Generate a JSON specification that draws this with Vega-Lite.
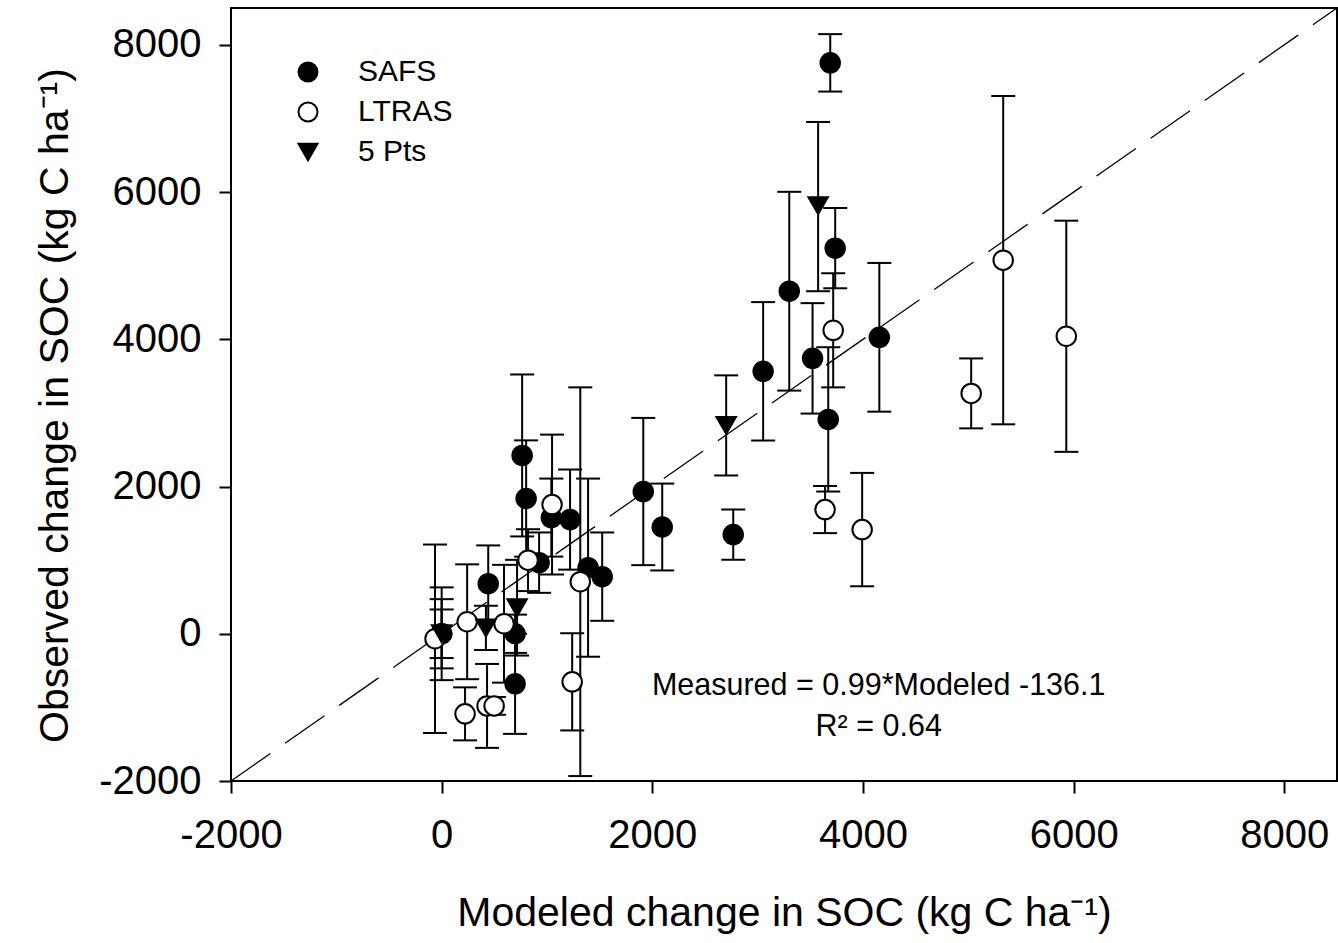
{
  "$schema": "https://vega.github.io/schema/vega-lite/v6.json",
  "autosize": {"type": "none"},
  "width": 1106,
  "height": 773,
  "padding": {"left": 231, "top": 8, "right": 1, "bottom": 162},
  "background": "white",
  "config": {
    "font": "Liberation Sans",
    "view": {"stroke": "black", "strokeWidth": 2},
    "axis": {
      "domain": false, "grid": false,
      "tickColor": "black", "tickWidth": 2, "tickSize": 12,
      "labelFont": "Liberation Sans", "labelFontSize": 40, "labelColor": "black",
      "titleFont": "Liberation Sans", "titleFontSize": 41, "titleFontWeight": "normal", "titleColor": "black"
    }
  },
  "datasets": {
    "pts": [
      {"series": "SAFS", "mx": 3689, "obs": 7755, "lo": 7365, "hi": 8145},
      {"series": "SAFS", "mx": 3736, "obs": 5238, "lo": 4693, "hi": 5783},
      {"series": "SAFS", "mx": 3300, "obs": 4653, "lo": 3303, "hi": 6003},
      {"series": "SAFS", "mx": 3052, "obs": 3565, "lo": 2625, "hi": 4505},
      {"series": "SAFS", "mx": 3521, "obs": 3741, "lo": 2991, "hi": 4491},
      {"series": "SAFS", "mx": 3670, "obs": 2912, "lo": 1932, "hi": 3892},
      {"series": "SAFS", "mx": 4155, "obs": 4027, "lo": 3017, "hi": 5037},
      {"series": "SAFS", "mx": 2768, "obs": 1347, "lo": 1007, "hi": 1687},
      {"series": "SAFS", "mx": 2094, "obs": 1450, "lo": 860, "hi": 2040},
      {"series": "SAFS", "mx": 1914, "obs": 1932, "lo": 932, "hi": 2932},
      {"series": "SAFS", "mx": 764, "obs": 2422, "lo": 1322, "hi": 3522},
      {"series": "SAFS", "mx": 802, "obs": 1837, "lo": 1047, "hi": 2627},
      {"series": "SAFS", "mx": 1041, "obs": 1578, "lo": 1048, "hi": 2108},
      {"series": "SAFS", "mx": 1219, "obs": 1551, "lo": 871, "hi": 2231},
      {"series": "SAFS", "mx": 1390, "obs": 898, "lo": -312, "hi": 2108},
      {"series": "SAFS", "mx": 1524, "obs": 776, "lo": 176, "hi": 1376},
      {"series": "SAFS", "mx": 925, "obs": 966, "lo": 556, "hi": 1376},
      {"series": "SAFS", "mx": 442, "obs": 680, "lo": 160, "hi": 1200},
      {"series": "SAFS", "mx": 697, "obs": 0, "lo": -260, "hi": 260},
      {"series": "SAFS", "mx": 697, "obs": -680, "lo": -1360, "hi": 0},
      {"series": "SAFS", "mx": 0, "obs": 0, "lo": -630, "hi": 630},
      {"series": "SAFS", "mx": 0, "obs": 0, "lo": -470, "hi": 470},
      {"series": "LTRAS", "mx": 3717, "obs": 4122, "lo": 3347, "hi": 4897},
      {"series": "LTRAS", "mx": 1048, "obs": 1755, "lo": 805, "hi": 2705},
      {"series": "LTRAS", "mx": 1316, "obs": 707, "lo": -1933, "hi": 3347},
      {"series": "LTRAS", "mx": 1239, "obs": -653, "lo": -1313, "hi": 7},
      {"series": "LTRAS", "mx": -63, "obs": -68, "lo": -1348, "hi": 1212},
      {"series": "LTRAS", "mx": 242, "obs": 163, "lo": -617, "hi": 943},
      {"series": "LTRAS", "mx": 592, "obs": 136, "lo": -664, "hi": 936},
      {"series": "LTRAS", "mx": 222, "obs": -1088, "lo": -1448, "hi": -728},
      {"series": "LTRAS", "mx": 431, "obs": -980, "lo": -1550, "hi": -410},
      {"series": "LTRAS", "mx": 498, "obs": -980, "lo": -1100, "hi": -860},
      {"series": "LTRAS", "mx": 820, "obs": 1000, "lo": 580, "hi": 1420},
      {"series": "LTRAS", "mx": 5331, "obs": 5075, "lo": 2845, "hi": 7305},
      {"series": "LTRAS", "mx": 5930, "obs": 4041, "lo": 2471, "hi": 5611},
      {"series": "LTRAS", "mx": 5027, "obs": 3265, "lo": 2790, "hi": 3740},
      {"series": "LTRAS", "mx": 3992, "obs": 1415, "lo": 645, "hi": 2185},
      {"series": "LTRAS", "mx": 3640, "obs": 1687, "lo": 1367, "hi": 2007},
      {"series": "5 Pts", "mx": 0, "obs": 0, "lo": -330, "hi": 330},
      {"series": "5 Pts", "mx": 420, "obs": 80, "lo": -220, "hi": 380},
      {"series": "5 Pts", "mx": 716, "obs": 354, "lo": -296, "hi": 1004},
      {"series": "5 Pts", "mx": 2701, "obs": 2830, "lo": 2150, "hi": 3510},
      {"series": "5 Pts", "mx": 3574, "obs": 5815, "lo": 4653, "hi": 6952}
    ],
    "oneline": [
      {"mx": -2000, "obs": -2000},
      {"mx": 8500, "obs": 8500}
    ],
    "notes": [
      {"mx": 4149, "obs": -830, "label": "Measured = 0.99*Modeled -136.1"},
      {"mx": 4149, "obs": -1385, "label": "R² = 0.64"}
    ]
  },
  "encoding": {
    "x": {
      "field": "mx", "type": "quantitative",
      "scale": {"domain": [-2000, 8500], "nice": false, "zero": false},
      "axis": {"title": "Modeled change in SOC (kg C ha⁻¹)", "values": [-2000, 0, 2000, 4000, 6000, 8000], "labelExpr": "datum.value + ''", "labelPadding": 22, "titlePadding": 38, "labelFlush": false, "labelOverlap": false}
    }
  },
  "layer": [
    {
      "data": {"name": "oneline"},
      "mark": {"type": "line", "color": "black", "strokeWidth": 1.3, "strokeDash": [48, 18], "clip": true},
      "encoding": {
        "y": {"field": "obs", "type": "quantitative", "scale": {"domain": [-2000, 8500], "nice": false, "zero": false},
          "axis": {"title": "Observed change in SOC (kg C ha⁻¹)", "values": [-2000, 0, 2000, 4000, 6000, 8000], "labelExpr": "datum.value + ''", "labelPadding": 18, "titlePadding": 22, "titleY": 397, "labelFlush": false, "labelOverlap": false}}
      }
    },
    {
      "data": {"name": "pts"},
      "mark": {"type": "rule", "color": "black", "strokeWidth": 2},
      "encoding": {
        "y": {"field": "lo", "type": "quantitative"},
        "y2": {"field": "hi"}
      }
    },
    {
      "data": {"name": "pts"},
      "mark": {"type": "tick", "orient": "horizontal", "color": "black", "size": 24, "thickness": 2, "opacity": 1},
      "encoding": {
        "y": {"field": "lo", "type": "quantitative"}
      }
    },
    {
      "data": {"name": "pts"},
      "mark": {"type": "tick", "orient": "horizontal", "color": "black", "size": 24, "thickness": 2, "opacity": 1},
      "encoding": {
        "y": {"field": "hi", "type": "quantitative"}
      }
    },
    {
      "data": {"name": "pts"},
      "mark": {"type": "point", "strokeWidth": 2, "opacity": 1, "size": 380},
      "encoding": {
        "y": {"field": "obs", "type": "quantitative"},
        "stroke": {"field": "series", "type": "nominal",
          "scale": {"domain": ["SAFS", "LTRAS", "5 Pts"], "range": ["black", "black", "black"]},
          "legend": {"title": null, "orient": "none", "legendX": 62, "legendY": 49, "labelFontSize": 30, "labelFont": "Liberation Sans", "labelColor": "black", "symbolSize": 360, "symbolStrokeWidth": 2, "rowPadding": 10, "labelOffset": 35}},
        "fill": {"field": "series", "type": "nominal",
          "scale": {"domain": ["SAFS", "LTRAS", "5 Pts"], "range": ["black", "white", "black"]},
          "legend": {"title": null, "orient": "none", "legendX": 62, "legendY": 49, "labelFontSize": 30, "labelFont": "Liberation Sans", "labelColor": "black", "symbolSize": 360, "symbolStrokeWidth": 2, "rowPadding": 10, "labelOffset": 35}},
        "shape": {"field": "series", "type": "nominal",
          "scale": {"domain": ["SAFS", "LTRAS", "5 Pts"], "range": ["circle", "circle", "triangle-down"]},
          "legend": {"title": null, "orient": "none", "legendX": 62, "legendY": 49, "labelFontSize": 30, "labelFont": "Liberation Sans", "labelColor": "black", "symbolSize": 360, "symbolStrokeWidth": 2, "rowPadding": 10, "labelOffset": 35}}
      }
    },
    {
      "data": {"name": "notes"},
      "mark": {"type": "text", "font": "Liberation Sans", "fontSize": 30.5, "align": "center", "baseline": "alphabetic", "color": "black"},
      "encoding": {
        "y": {"field": "obs", "type": "quantitative"},
        "text": {"field": "label"}
      }
    }
  ]
}
